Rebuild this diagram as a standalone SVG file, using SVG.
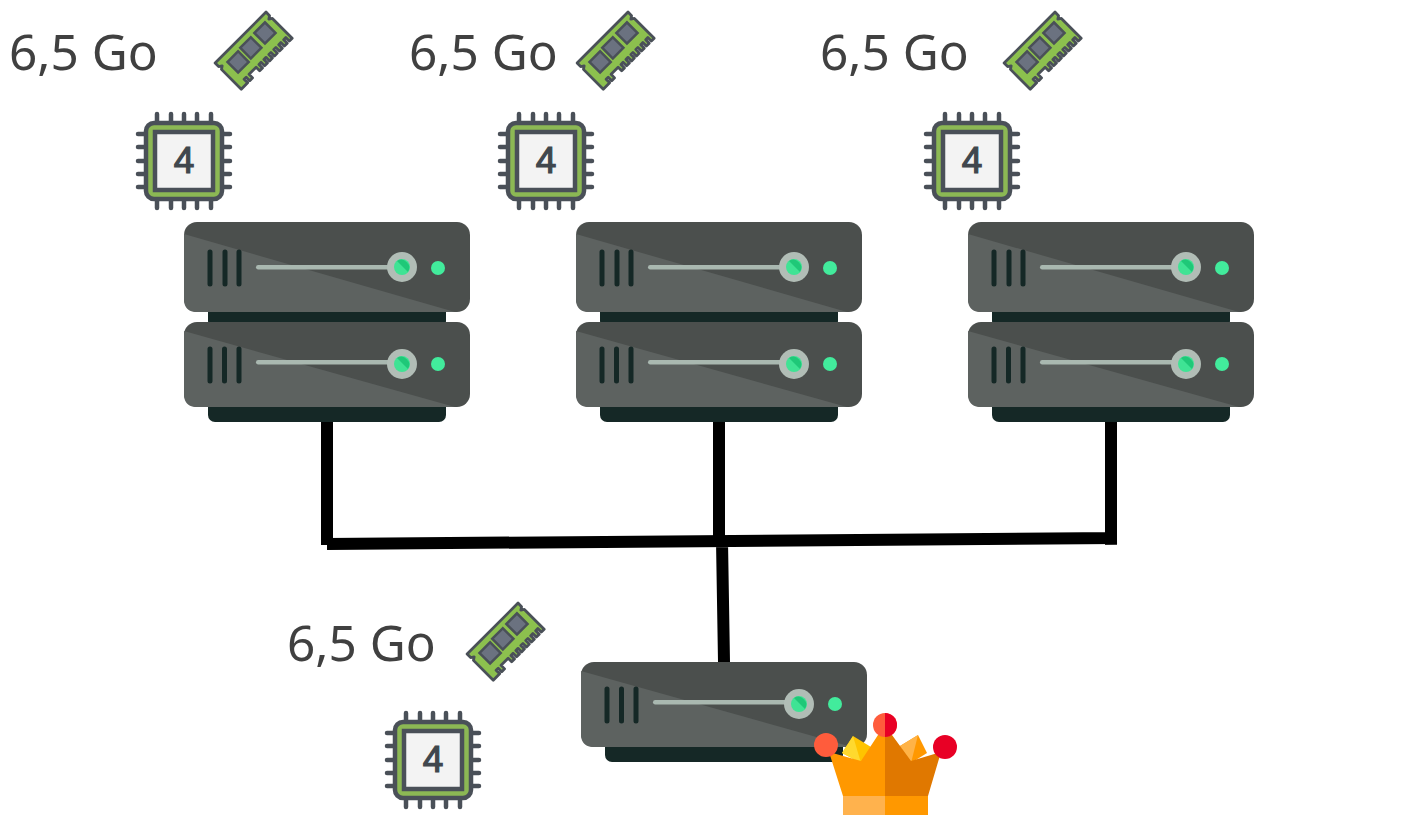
<svg xmlns="http://www.w3.org/2000/svg" width="1416" height="825" viewBox="0 0 1416 825">
<style>
.lbl{font-family:"Noto Sans","Open Sans",sans-serif;font-size:49.5px;fill:#404040}
.num{font-family:"Liberation Sans",sans-serif;font-size:37px;fill:#40474d;stroke:#40474d;stroke-width:1.2;text-anchor:middle}
.wire{stroke:#000;stroke-width:12;fill:none}
.vent{stroke:#152826;stroke-width:5;stroke-linecap:round}
.pin{stroke:#4a5058;stroke-width:4.5;stroke-linecap:round}
</style>
<defs>
<g id="unitTop">
<rect x="184" y="222" width="286" height="90" rx="13" fill="#4b4f4d"/>
<path d="M184 234L455 312H197Q184 312 184 299Z" fill="#5d6260"/>
<path d="M210 252V284M225 252V284M239 252V284" class="vent"/>
<rect x="256" y="265" width="134" height="4.5" rx="2.2" fill="#a9b8b0"/>
<circle cx="402" cy="267" r="15" fill="#b1bdb6"/>
<circle cx="402" cy="267" r="8" fill="#3fe394"/>
<path d="M397 261L408 272A8 8 0 0 0 397 261Z" fill="#1fc878"/>
<circle cx="438" cy="268" r="7" fill="#42eb9c"/>
</g>
<g id="unitLow">
<rect x="208" y="395" width="238" height="27" rx="7" fill="#152826"/>
<rect x="184" y="322" width="286" height="85" rx="13" fill="#4b4f4d"/>
<path d="M184 331L455 407H197Q184 407 184 394Z" fill="#5d6260"/>
<path d="M210 349V381M224.500 349V381M239 349V381" class="vent"/>
<rect x="256" y="360" width="134" height="4.500" rx="2.200" fill="#a9b8b0"/>
<circle cx="402" cy="364" r="15" fill="#b1bdb6"/>
<circle cx="402" cy="364" r="8" fill="#3fe394"/>
<path d="M397 358L408 369A8 8 0 0 0 397 358Z" fill="#1fc878"/>
<circle cx="438" cy="364" r="7" fill="#42eb9c"/>
</g>
<g id="chip">
<path d="M22 2V9M36 2V9M49 2V9M62 2V9M76 2V9M22 89V96M36 89V96M49 89V96M62 89V96M76 89V96M3 22H9M3 35H9M3 49H9M3 62H9M3 75H9M89 22H95M89 35H95M89 49H95M89 62H95M89 75H95" class="pin"/>
<rect x="11" y="11" width="76" height="76" rx="8" fill="#8cb854" stroke="#4a5058" stroke-width="4.500"/>
<rect x="20" y="20" width="58" height="58" fill="#f3f3f3" stroke="#4a5058" stroke-width="4.500"/>
<text x="49" y="61" class="num">4</text>
</g>
<g id="ram">
<path d="M-36 -19H36V-14L33 -12L36 -10V18H32V13H29V18H25V13H22V18H18V13H15V18H11V13H8V18H4V13H1V18H-3V13H-6V18H-10V13H-20V18H-24V13H-27V18H-36V-10L-33 -12L-36 -14Z" fill="#8cc04e" stroke="#4a5058" stroke-width="2.800" stroke-linejoin="round"/>
<rect x="-26.500" y="-11" width="15" height="15" fill="#6b7280" stroke="#4a5058" stroke-width="2.500"/>
<rect x="-7.500" y="-12" width="15" height="15" fill="#6b7280" stroke="#4a5058" stroke-width="2.500"/>
<rect x="13" y="-12.500" width="15" height="15" fill="#6b7280" stroke="#4a5058" stroke-width="2.500"/>
</g>
</defs>
<g id="connectors">
<path class="wire" d="M327 422V545M719 422V541M1111 422V545M327 544L1117 538M722 541L724 662"/>
</g>
<g id="server-1">
<rect x="208" y="305" width="238" height="20" rx="4" fill="#152826"/>
<use href="#unitTop"/><use href="#unitLow"/>
</g>
<g id="server-2" transform="translate(392 0)">
<rect x="208" y="305" width="238" height="20" rx="4" fill="#152826"/>
<use href="#unitTop"/><use href="#unitLow"/>
</g>
<g id="server-3" transform="translate(784 0)">
<rect x="208" y="305" width="238" height="20" rx="4" fill="#152826"/>
<use href="#unitTop"/><use href="#unitLow"/>
</g>
<g id="master"><use href="#unitLow" transform="translate(397 340)"/></g>
<g id="res-1">
<text x="9" y="70" class="lbl">6,5 Go</text>
<use href="#ram" transform="translate(254 51) rotate(-45)"/>
<use href="#chip" transform="translate(135 112)"/>
</g>
<g id="res-2">
<text x="409" y="70" class="lbl">6,5 Go</text>
<use href="#ram" transform="translate(616 51) rotate(-45)"/>
<use href="#chip" transform="translate(497 112)"/>
</g>
<g id="res-3">
<text x="820" y="70" class="lbl">6,5 Go</text>
<use href="#ram" transform="translate(1043 51) rotate(-45)"/>
<use href="#chip" transform="translate(923 112)"/>
</g>
<g id="res-4">
<text x="287" y="661" class="lbl">6,5 Go</text>
<use href="#ram" transform="translate(506 642) rotate(-45)"/>
<use href="#chip" transform="translate(384 711)"/>
</g>
<g id="crown">
<path d="M853 736L871 747L861 763L842 753Z" fill="#ffc400"/>
<path d="M853 736L861 763L842 753Z" fill="#ffd92e"/>
<path d="M900 746L918 735L927 753L911 763Z" fill="#ff9800"/>
<path d="M900 746L918 735L911 763Z" fill="#ffb347"/>
<path d="M829 752L861 761L878 735H885V796H843Z" fill="#ff9800"/>
<path d="M941 752L911 761L892 735H885V796H928Z" fill="#e07800"/>
<rect x="843" y="796" width="42" height="19" fill="#ffb24d"/>
<rect x="885" y="796" width="43" height="19" fill="#ff9800"/>
<circle cx="826" cy="745" r="12" fill="#ff5c3c"/>
<circle cx="945" cy="747" r="12" fill="#e80025"/>
<circle cx="885" cy="725" r="12" fill="#ff5c3c"/>
<path d="M885 713A12 12 0 0 1 885 737Z" fill="#e80025"/>
</g>
</svg>
